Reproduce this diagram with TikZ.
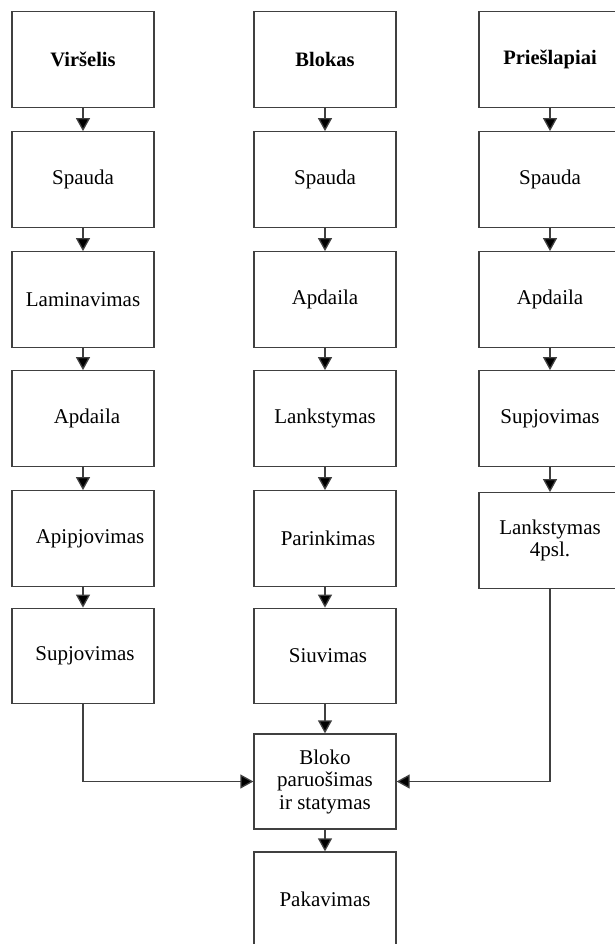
\documentclass[tikz,border=0pt]{standalone}
\usepackage{fontspec}
\setmainfont{Liberation Serif}
\usetikzlibrary{arrows.meta}

\tikzset{
  stagebox/.style={draw=black!75, line width=1.3pt, fill=white,
    minimum width=142pt, minimum height=95.5pt, inner sep=2pt,
    align=center, font=\fontsize{21}{22.5}\selectfont},
  headbox/.style={stagebox, font=\fontsize{20.5}{22.5}\selectfont\bfseries},
  flow/.style={draw=black!75, line width=1.3pt,
    -{Triangle[width=14pt,length=13pt,fill=black]}}
}

\begin{document}
\begin{tikzpicture}[x=1pt, y=-1pt]
  \useasboundingbox (0,0) rectangle (614,944);
  \fill[white] (0,0) rectangle (614,944);

  % Column 1: cover
  \node[headbox]  (v1) at (83,59.5)  {Viršelis};
  \node[stagebox] (v2) at (83,179.5) {Spauda};
  \node[stagebox] (v3) at (83,299.5) {Laminavimas};
  \node[stagebox] (v4) at (83,418.5) {\hspace*{8pt}Apdaila};
  \node[stagebox] (v5) at (83,538.5) {\hspace*{14pt}Apipjovimas};
  \node[stagebox] (v6) at (83,656)   {\hspace*{4pt}Supjovimas};

  % Column 2: book block
  \node[headbox]  (b1) at (325,59.5)  {Blokas};
  \node[stagebox] (b2) at (325,179.5) {Spauda};
  \node[stagebox] (b3) at (325,299.5) {Apdaila};
  \node[stagebox] (b4) at (325,418.5) {Lankstymas};
  \node[stagebox] (b5) at (325,538.5) {\hspace*{6pt}Parinkimas};
  \node[stagebox] (b6) at (325,656)   {\hspace*{6pt}Siuvimas};

  % Column 3: endpapers
  \node[headbox]  (p1) at (550,59.5)  {Priešlapiai};
  \node[stagebox] (p2) at (550,179.5) {Spauda};
  \node[stagebox] (p3) at (550,299.5) {Apdaila};
  \node[stagebox] (p4) at (550,418.5) {Supjovimas};
  \node[stagebox] (p5) at (550,540.5) {Lankstymas\\4psl.};

  % Assembly and packing
  \node[stagebox, minimum height=95pt] (bl) at (325,781.5) {Bloko\\paruošimas\\ir statymas};
  \node[stagebox, minimum height=95pt] (pk) at (325,899.5) {Pakavimas};

  % Vertical flows
  \draw[flow] (v1) -- (v2);
  \draw[flow] (v2) -- (v3);
  \draw[flow] (v3) -- (v4);
  \draw[flow] (v4) -- (v5);
  \draw[flow] (v5) -- (v6);

  \draw[flow] (b1) -- (b2);
  \draw[flow] (b2) -- (b3);
  \draw[flow] (b3) -- (b4);
  \draw[flow] (b4) -- (b5);
  \draw[flow] (b5) -- (b6);
  \draw[flow] (b6) -- (bl);
  \draw[flow] (bl) -- (pk);

  \draw[flow] (p1) -- (p2);
  \draw[flow] (p2) -- (p3);
  \draw[flow] (p3) -- (p4);
  \draw[flow] (p4) -- (p5);

  % Side branches into the assembly step
  \draw[flow] (v6.south) |- (bl.west);
  \draw[flow] (p5.south) |- (bl.east);
\end{tikzpicture}
\end{document}
